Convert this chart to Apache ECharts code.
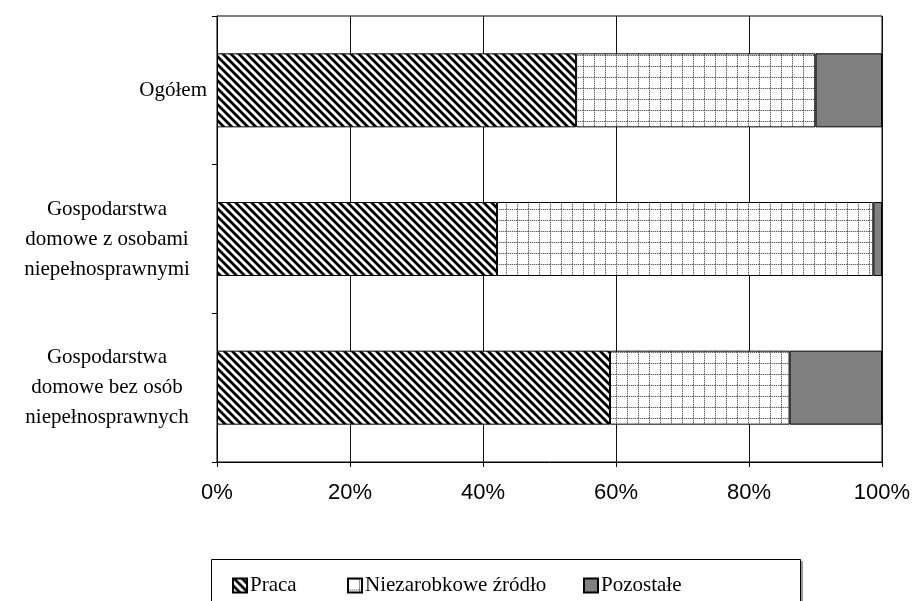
<!DOCTYPE html>
<html>
<head>
<meta charset="utf-8">
<script src="https://cdn.jsdelivr.net/npm/echarts@6/dist/echarts.min.js"></script>
<style>html,body{margin:0;padding:0;background:#fff}#c{width:914px;height:601px}</style>
</head>
<body>
<div id="c"></div>
<script>
const categories = ['Ogółem', 'Gospodarstwa\ndomowe z osobami\nniepełnosprawnymi', 'Gospodarstwa\ndomowe bez osób\nniepełnosprawnych'];
const seriesNames = ['Praca', 'Niezarobkowe źródło', 'Pozostałe'];
const praca = [54, 42.1, 59.1];
const niezarobkowe = [36, 56.6, 27.0];
const pozostale = [10, 1.3, 13.9];

function stripeTile() {
  const c = document.createElement('canvas');
  c.width = 8; c.height = 8;
  const ctx = c.getContext('2d');
  const img = ctx.createImageData(8, 8);
  for (let y = 0; y < 8; y++) for (let x = 0; x < 8; x++) {
    const d = ((x - y) % 8 + 8) % 8;
    let v = 255;
    if (d === 0 || d === 1 || d === 2) v = 0;
    else if (d === 3 || d === 7) v = 140;
    const i = (y * 8 + x) * 4;
    img.data[i] = img.data[i+1] = img.data[i+2] = v; img.data[i+3] = 255;
  }
  ctx.putImageData(img, 0, 0);
  return c;
}
function gridTile() {
  const n = 11;
  const c = document.createElement('canvas');
  c.width = n; c.height = n;
  const ctx = c.getContext('2d');
  ctx.fillStyle = '#fff'; ctx.fillRect(0, 0, n, n);
  for (let i = 0; i < n; i++) {
    ctx.fillStyle = (i % 2 === 0) ? '#666' : '#c8c8c8';
    ctx.fillRect(i, 0, 1, 1);
    ctx.fillRect(0, i, 1, 1);
  }
  return c;
}

const chart = echarts.init(document.getElementById('c'), null, {renderer: 'canvas'});
const serif = '"Liberation Serif", "Times New Roman", serif';
const sans = '"Liberation Sans", Arial, sans-serif';
const border = {borderColor: '#000', borderWidth: 1};

chart.setOption({
  animation: false,
  backgroundColor: '#fff',
  grid: {left: 217, right: 32, top: 16, bottom: 139, show: true, borderColor: '#000', borderWidth: 1, backgroundColor: 'transparent'},
  xAxis: {
    type: 'value', min: 0, max: 100, interval: 20,
    axisLine: {show: true, lineStyle: {color: '#000'}},
    axisTick: {show: true, length: 5, lineStyle: {color: '#000'}},
    splitLine: {show: true, lineStyle: {color: '#111', width: 1}},
    axisLabel: {formatter: '{value}%', fontFamily: sans, fontSize: 22, color: '#000', margin: 20}
  },
  yAxis: {
    type: 'category', inverse: true, data: categories,
    axisLine: {show: true, lineStyle: {color: '#000'}},
    axisTick: {show: true, length: 5, lineStyle: {color: '#000'}},
    splitLine: {show: false},
    axisLabel: {
      margin: 10, align: 'right', color: '#000', fontFamily: serif, fontSize: 21, lineHeight: 30,
      formatter: function (v) {
        if (v.indexOf('\n') < 0) return '{r|' + v + '}';
        return v.split('\n').map(s => '{c|' + s + '}').join('\n');
      },
      rich: {
        c: {width: 200, align: 'center', fontFamily: serif, fontSize: 21, lineHeight: 30, color: '#000'},
        r: {fontFamily: serif, fontSize: 21, lineHeight: 30, color: '#000'}
      }
    }
  },
  legend: [
    {data: [seriesNames[0]], left: 232, top: 575},
    {data: [seriesNames[1]], left: 347, top: 575},
    {data: [seriesNames[2]], left: 583, top: 575}
  ].map(l => Object.assign(l, {
    orient: 'horizontal', padding: 0, itemWidth: 14, itemHeight: 14, icon: 'rect',
    selectedMode: false,
    textStyle: {fontFamily: serif, fontSize: 21, color: '#000', padding: [0, 0, 0, -2]}
  })),
  graphic: [
    {type: 'rect', shape: {x: 213, y: 561, width: 590, height: 60}, style: {fill: '#999'}, z: -2, silent: true},
    {type: 'rect', shape: {x: 211.5, y: 559.5, width: 589, height: 60}, style: {fill: '#fff', stroke: '#000', lineWidth: 1}, z: -1, silent: true}
  ],
  series: [
    {name: seriesNames[0], type: 'bar', stack: 't', data: praca, barWidth: 74,
      itemStyle: Object.assign({color: {image: stripeTile(), repeat: 'repeat'}}, border)},
    {name: seriesNames[1], type: 'bar', stack: 't', data: niezarobkowe, barWidth: 74,
      itemStyle: Object.assign({color: {image: gridTile(), repeat: 'repeat'}}, border)},
    {name: seriesNames[2], type: 'bar', stack: 't', data: pozostale, barWidth: 74,
      itemStyle: Object.assign({color: '#808080'}, border)}
  ].map(s => Object.assign(s, {emphasis: {disabled: true}, silent: true}))
});
</script>
</body>
</html>
